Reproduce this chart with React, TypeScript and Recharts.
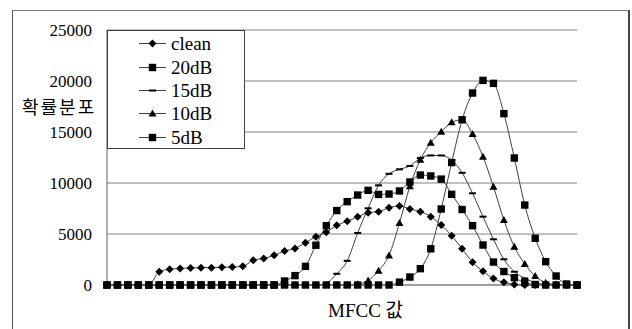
import React from 'react';
import { LineChart, Line, XAxis, YAxis, CartesianGrid, Legend } from 'recharts';

// probability distribution of MFCC values, one list per noise level
const clean = [0, 0, 0, 0, 0, 1300, 1550, 1620, 1670, 1700, 1700, 1730, 1760, 1830, 2430, 2610, 2910, 3330, 3590, 4150, 4740, 5180, 5850, 6250, 6680, 7090, 7190, 7580, 7740, 7450, 7190, 6700, 5880, 4840, 3550, 2230, 1350, 640, 260, 60, 0, 0, 0, 0, 0, 0];
const db20 = [0, 0, 0, 0, 0, 0, 0, 0, 0, 0, 0, 0, 0, 0, 0, 0, 0, 390, 920, 1830, 3900, 5820, 7300, 8170, 8820, 9280, 8880, 8920, 9220, 10100, 10780, 10690, 10380, 8890, 7400, 5820, 3920, 2250, 1320, 720, 230, 50, 0, 0, 0, 0];
const db15 = [0, 0, 0, 0, 0, 0, 0, 0, 0, 0, 0, 0, 0, 0, 0, 0, 0, 0, 0, 0, 0, 200, 1100, 2370, 5100, 7520, 9770, 10900, 11340, 11670, 12450, 12700, 12700, 12250, 11000, 8990, 6700, 4480, 2520, 1300, 650, 230, 50, 0, 0, 0];
const db10 = [0, 0, 0, 0, 0, 0, 0, 0, 0, 0, 0, 0, 0, 0, 0, 0, 0, 0, 0, 0, 0, 0, 0, 0, 80, 450, 1400, 2900, 6070, 9670, 12280, 13950, 15030, 15950, 16200, 14800, 12580, 9640, 6370, 3750, 2060, 880, 230, 50, 0, 0];
const db5 = [0, 0, 0, 0, 0, 0, 0, 0, 0, 0, 0, 0, 0, 0, 0, 0, 0, 0, 0, 0, 0, 0, 0, 0, 0, 0, 0, 0, 280, 780, 1600, 3550, 7450, 12000, 16200, 18820, 20060, 19770, 16800, 12450, 7840, 4580, 2290, 880, 100, 0];
const bins = clean.map((_, i) => i + 1);
const yTicks = [0, 5000, 10000, 15000, 20000, 25000];

const data = bins.map((b, i) => ({
    bin: b,
    clean: clean[i],
    db20: db20[i],
    db15: db15[i],
    db10: db10[i],
    db5: db5[i],
}));

const serif = '"Liberation Serif", "Times New Roman", serif';
const korean = '"Liberation Serif", "Noto Sans CJK KR", serif';
const lineColor = '#404040';

const Diamond = ({ cx, cy }: any) => (
    <path d={`M${cx},${cy - 4}L${cx + 4},${cy}L${cx},${cy + 4}L${cx - 4},${cy}Z`} fill="#000" />
);
const Square = ({ cx, cy }: any) => (
    <rect x={cx - 3.7} y={cy - 3.7} width={7.4} height={7.4} fill="#000" />
);
const Dash = ({ cx, cy }: any) => (
    <rect x={cx - 3.5} y={cy - 1} width={7} height={2} fill="#000" />
);
const Triangle = ({ cx, cy }: any) => (
    <path d={`M${cx},${cy - 4}L${cx + 4},${cy + 3}L${cx - 4},${cy + 3}Z`} fill="#000" />
);

const series = [
    { key: 'clean', name: 'clean', Marker: Diamond },
    { key: 'db20', name: '20dB', Marker: Square },
    { key: 'db15', name: '15dB', Marker: Dash },
    { key: 'db10', name: '10dB', Marker: Triangle },
    { key: 'db5', name: '5dB', Marker: Square },
];

const LegendBox = () => (
    <div style={{ width: 136, height: 117, border: '1px solid #404040', background: '#fff', position: 'relative' }}>
        {series.map((s, k) => (
            <div key={s.key} style={{ position: 'absolute', left: 0, top: 1 + k * 23.4, height: 23.4, display: 'flex', alignItems: 'center' }}>
                <svg width={60} height={23} style={{ display: 'block' }}>
                    <line x1={31} x2={58} y1={11.5} y2={11.5} stroke={lineColor} strokeWidth={1} />
                    <s.Marker cx={44.5} cy={11.5} />
                </svg>
                <span style={{ fontFamily: serif, fontSize: 19, color: '#000', marginLeft: 3, lineHeight: '23px' }}>{s.name}</span>
            </div>
        ))}
    </div>
);

export default function App() {
    return (
        <div style={{ position: 'absolute', left: 0, top: 0, width: 632, height: 329, overflow: 'hidden', background: '#fff' }}>
            <div style={{ position: 'absolute', left: 12, top: 10, width: 615, height: 340, borderLeft: '1px solid #555', borderTop: '1px solid #777', borderRight: '2px solid #444' }} />
            <LineChart width={632} height={329} data={data} margin={{ top: 30, right: 55, bottom: 30, left: 0 }} style={{ position: 'absolute', left: 0, top: 0 }}>
                <CartesianGrid vertical={false} stroke="#808080" strokeWidth={1} />
                <XAxis
                    dataKey="bin"
                    height={14}
                    interval={0}
                    tick={false}
                    tickSize={-5}
                    tickLine={{ stroke: '#808080' }}
                    axisLine={{ stroke: '#808080' }}
                    label={{
                        content: ({ viewBox }: any) => (
                            <text x={viewBox.x + 221} y={viewBox.y + 32} fontFamily={korean} fontSize={19} fill="#000">MFCC 값</text>
                        ),
                    }}
                />
                <YAxis
                    width={107}
                    domain={[0, 25000]}
                    ticks={yTicks}
                    tickLine={false}
                    tickSize={0}
                    tickMargin={15}
                    axisLine={{ stroke: '#606060' }}
                    tick={{ fontFamily: serif, fontSize: 17, fill: '#000' }}
                    label={{
                        content: ({ viewBox }: any) => (
                            <text x={viewBox.x + 22} y={viewBox.y + 84} fontFamily={'"Noto Sans CJK KR", sans-serif'} fontSize={18} letterSpacing={2} fill="#000">확률분포</text>
                        ),
                    }}
                />
                <YAxis yAxisId="frame" orientation="right" width={0} tick={false} tickLine={false} axisLine={{ stroke: '#808080' }} />
                <Legend
                    layout="horizontal"
                    verticalAlign="middle"
                    align="center"
                    wrapperStyle={{ left: 107, top: 30, width: 138, height: 119 }}
                    content={() => <LegendBox />}
                />
                {series.map((s) => (
                    <Line
                        key={s.key}
                        type="monotone"
                        dataKey={s.key}
                        name={s.name}
                        stroke={lineColor}
                        strokeWidth={1}
                        isAnimationActive={false}
                        dot={(p: any) => <s.Marker key={`${s.key}-${p.index}`} cx={p.cx} cy={p.cy} />}
                        activeDot={false}
                    />
                ))}
            </LineChart>
        </div>
    );
}
